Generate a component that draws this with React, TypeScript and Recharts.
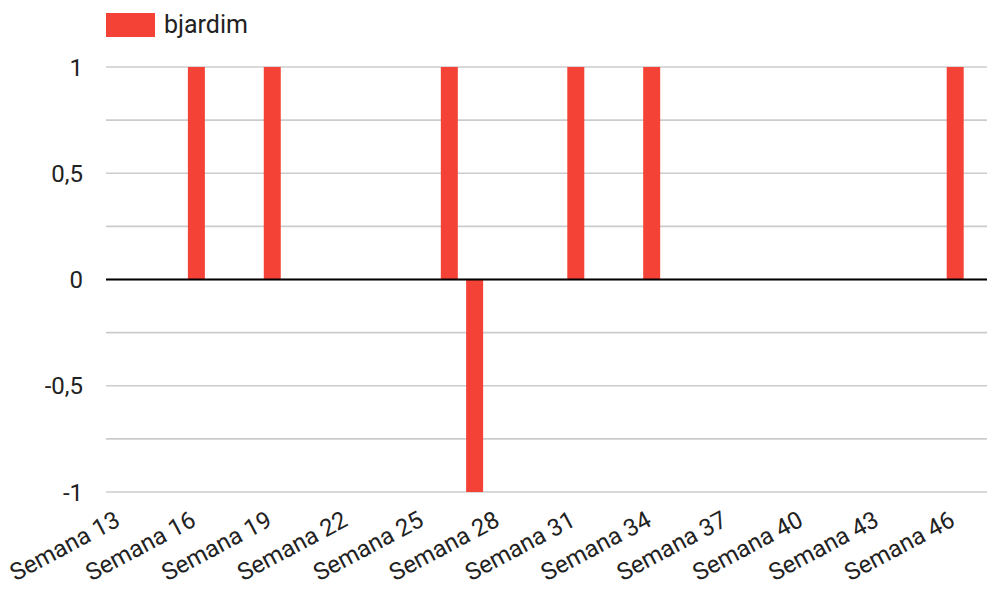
import { BarChart, Bar, XAxis, YAxis, CartesianGrid, ReferenceLine, Legend } from "recharts"

const weeks = [
  "Semana 13", "Semana 14", "Semana 15", "Semana 16", "Semana 17", "Semana 18",
  "Semana 19", "Semana 20", "Semana 21", "Semana 22", "Semana 23", "Semana 24",
  "Semana 25", "Semana 26", "Semana 27", "Semana 28", "Semana 29", "Semana 30",
  "Semana 31", "Semana 32", "Semana 33", "Semana 34", "Semana 35", "Semana 36",
  "Semana 37", "Semana 38", "Semana 39", "Semana 40", "Semana 41", "Semana 42",
  "Semana 43", "Semana 44", "Semana 45", "Semana 46",
]
const bjardim = [
  0, 0, 0, 1, 0, 0,
  1, 0, 0, 0, 0, 0,
  0, 1, -1, 0, 0, 0,
  1, 0, 0, 1, 0, 0,
  0, 0, 0, 0, 0, 0,
  0, 0, 0, 1,
]
const yTicks = [-1, -0.75, -0.5, -0.25, 0, 0.25, 0.5, 0.75, 1]

const FONT = "Roboto, sans-serif"
const RED = "#f44336"

const chartData = weeks.map((week, i) => ({ week, bjardim: bjardim[i] }))

// only label every half unit, with a decimal comma
const formatY = (v: number) =>
  Math.abs(v * 2 - Math.round(v * 2)) < 1e-9 ? String(v).replace(".", ",") : ""

const SlantTick = (props: any) => {
  const { x, y, payload } = props
  const ax = x + 1
  const ay = y + 25
  return (
    <text
      x={ax}
      y={ay}
      transform={`rotate(-28 ${ax} ${ay})`}
      textAnchor="end"
      fontSize={24}
      fontFamily={FONT}
      fill="#222"
    >
      {payload.value}
    </text>
  )
}

const LegendBox = ({ payload }: any) => (
  <div style={{ display: "flex", alignItems: "center", fontFamily: FONT }}>
    {(payload || []).map((p: any) => (
      <div key={p.value} style={{ display: "flex", alignItems: "center" }}>
        <span style={{ display: "inline-block", width: 49, height: 24, background: p.color }} />
        <span style={{ marginLeft: 9, fontSize: 25, color: "#222" }}>{p.value}</span>
      </div>
    ))}
  </div>
)

export default function App() {
  return (
    <div>
      <style>{"body{margin:0}"}</style>
      <BarChart
        width={987}
        height={591}
        data={chartData}
        margin={{ top: 67, right: 0, bottom: 0, left: 0 }}
      >
        <CartesianGrid vertical={false} stroke="#cccccc" strokeWidth={1.6} />
        <XAxis
          dataKey="week"
          interval={2}
          axisLine={false}
          tickLine={false}
          height={99}
          padding={{ left: 2, right: 19 }}
          tick={<SlantTick />}
        />
        <YAxis
          domain={[-1, 1]}
          ticks={yTicks}
          width={106}
          axisLine={false}
          tickLine={false}
          tickFormatter={formatY}
          tick={{ fontSize: 24, fontFamily: FONT, fill: "#222", dx: -15 }}
        />
        <Legend
          layout="horizontal"
          verticalAlign="middle"
          align="center"
          wrapperStyle={{ top: 10, left: 106, width: "auto", height: "auto" }}
          content={<LegendBox />}
        />
        <Bar dataKey="bjardim" name="bjardim" fill={RED} barSize={17} isAnimationActive={false} />
        <ReferenceLine y={0} stroke="#000" strokeWidth={2} />
      </BarChart>
    </div>
  )
}
